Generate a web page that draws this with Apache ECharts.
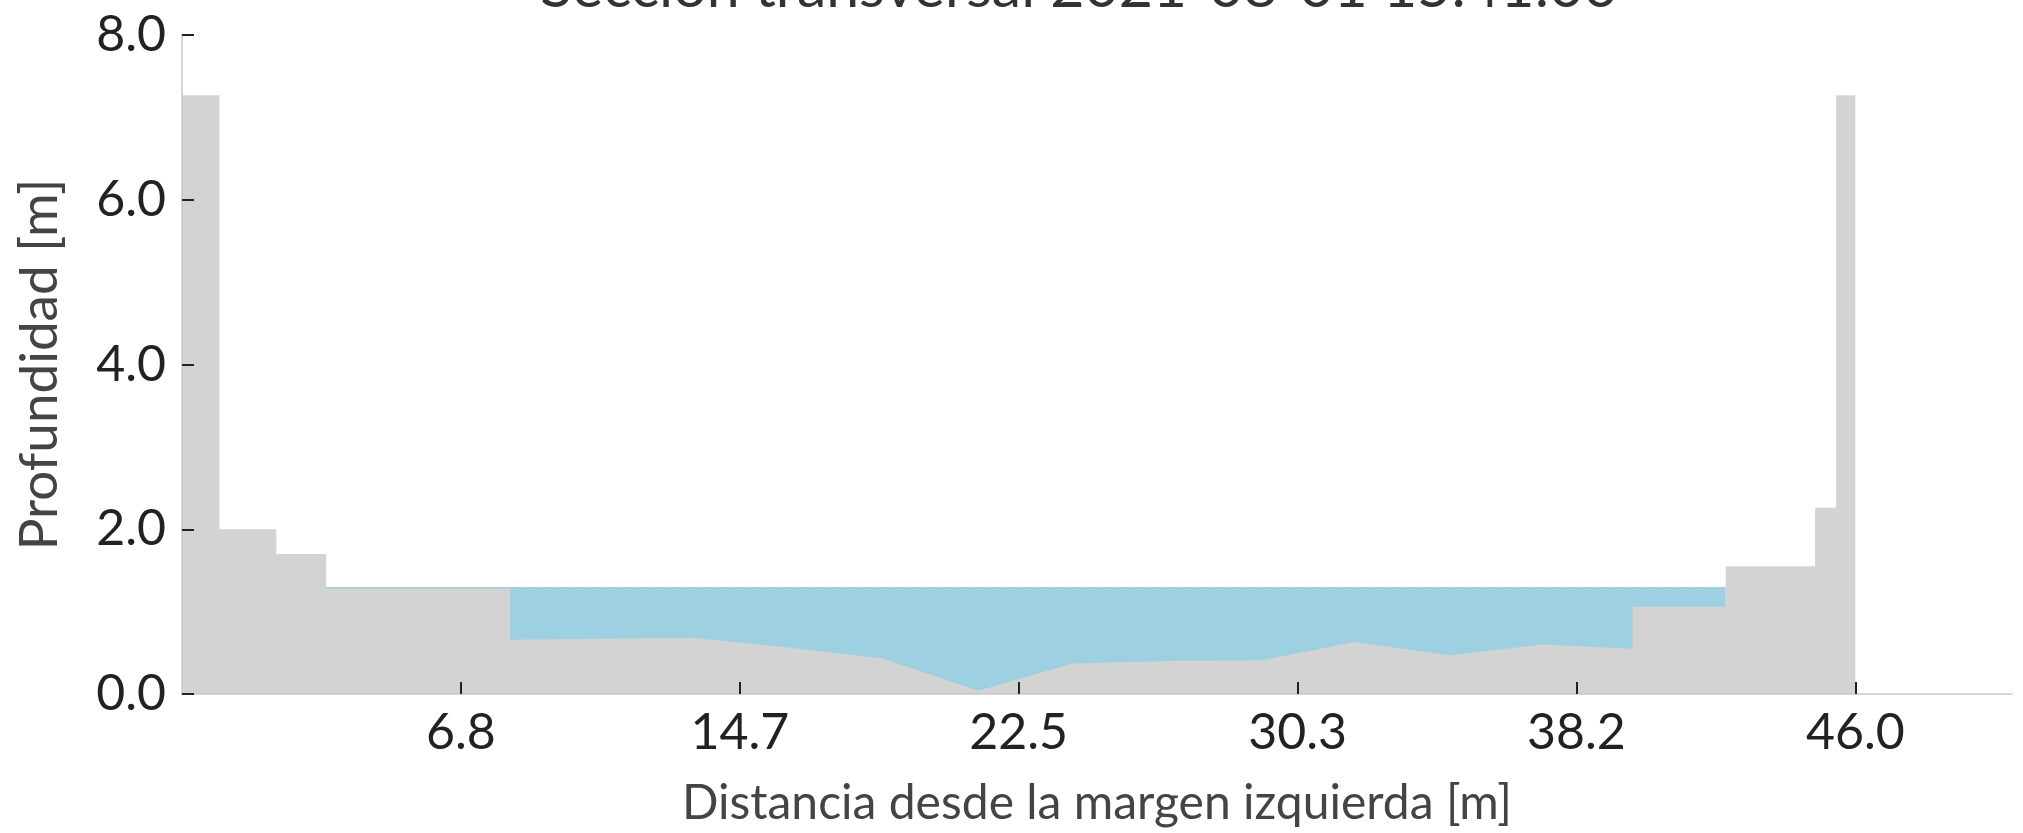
<!DOCTYPE html>
<html>
<head>
<meta charset="utf-8">
<title>Sección transversal</title>
<script src="https://cdn.jsdelivr.net/npm/echarts@6/dist/echarts.min.js"></script>
<style>
  html, body { margin: 0; padding: 0; background: #fff; }
  #chart { width: 2023px; height: 833px; }
</style>
</head>
<body>
<div id="chart"></div>
<script>
// distance from left bank [m] and depth [m] of the terrain profile
var terrainX = [-1, 0.05, 0.05, 1.65, 1.65, 3.05, 3.05, 8.22, 8.22, 10.8, 13.41, 16.08, 18.69, 21.36, 24.02, 26.74, 29.33, 31.94, 34.61, 37.22, 39.74, 39.74, 42.36, 42.36, 44.87, 44.87, 45.46, 45.46, 46.0, 46.0];
var terrainY = [7.27, 7.27, 2.0, 2.0, 1.7, 1.7, 1.28, 1.28, 0.66, 0.67, 0.68, 0.56, 0.43, 0.04, 0.37, 0.40, 0.41, 0.63, 0.47, 0.60, 0.55, 1.06, 1.06, 1.55, 1.55, 2.26, 2.26, 7.27, 7.27, 0];

// water surface
var waterX = [3.05, 42.36];
var waterY = [1.30, 1.30];

// axis ticks
var xTicks = [6.8333, 14.6667, 22.5, 30.3333, 38.1667, 46.0];
var yTicks = [0, 2, 4, 6, 8];

var titleText = 'Sección transversal 2021-08-01 15:41:00';
var font = 'Lato';

var terrain = terrainX.map(function (x, i) { return [x, terrainY[i]]; });
var water = waterX.map(function (x, i) { return [x, waterY[i]]; });

var chart = echarts.init(document.getElementById('chart'));

var option = {
  animation: false,
  backgroundColor: '#fff',
  title: {
    text: titleText,
    left: 1074,
    textAlign: 'center',
    top: -47,
    textStyle: { fontFamily: font, fontSize: 59, fontWeight: 'normal', color: '#333' }
  },
  grid: { left: 182, right: 11, top: 35, bottom: 137 },
  xAxis: {
    type: 'value',
    min: -1,
    max: 50.4,
    z: 10,
    name: 'Distancia desde la margen izquierda [m]',
    nameLocation: 'middle',
    nameGap: 86,
    nameTextStyle: { fontFamily: font, fontSize: 48, color: '#444' },
    axisLine: { show: true, onZero: false, lineStyle: { color: '#c8c8c8', width: 1.5 } },
    axisTick: { show: true, inside: true, length: 12, customValues: xTicks, lineStyle: { color: '#222', width: 2 } },
    axisLabel: {
      customValues: xTicks,
      margin: 14,
      fontFamily: font, fontSize: 50, color: '#222',
      formatter: function (v) { return v.toFixed(1); }
    },
    splitLine: { show: false }
  },
  yAxis: {
    type: 'value',
    min: 0,
    max: 8,
    z: 10,
    name: 'Profundidad [m]',
    nameLocation: 'middle',
    nameGap: 116,
    nameTextStyle: { fontFamily: font, fontSize: 53, color: '#444' },
    axisLine: { show: true, onZero: false, lineStyle: { color: '#c8c8c8', width: 1.5 } },
    axisTick: { show: true, inside: true, length: 12, customValues: yTicks, lineStyle: { color: '#222', width: 2 } },
    axisLabel: {
      customValues: yTicks,
      margin: 16,
      fontFamily: font, fontSize: 50, color: '#222',
      formatter: function (v) { return v.toFixed(1); }
    },
    splitLine: { show: false }
  },
  series: [
    {
      name: 'Agua',
      type: 'line',
      data: water,
      symbol: 'none',
      z: 1,
      lineStyle: { width: 0 },
      areaStyle: { color: '#9dd0e0', opacity: 1 }
    },
    {
      name: 'Terreno',
      type: 'line',
      data: terrain,
      symbol: 'none',
      z: 2,
      lineStyle: { width: 0 },
      areaStyle: { color: '#d3d3d3', opacity: 1 }
    }
  ]
};

chart.setOption(option);
</script>
</body>
</html>
